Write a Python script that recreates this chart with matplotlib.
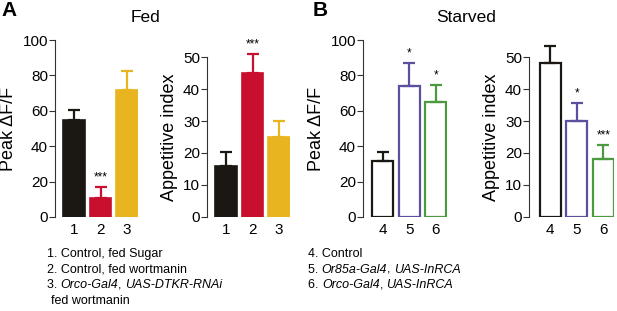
import numpy as np
import matplotlib
matplotlib.use('Agg')
from matplotlib import pyplot as plt

plt.rcParams['font.family'] = ['Liberation Sans', 'DejaVu Sans']

# dados
grupos_A = ['1', '2', '3']
peak_A = [55, 10.5, 72]
peak_A_err = [5.5, 6.5, 10.5]
app_A = [16, 45, 25]
app_A_err = [4.2, 6, 5]
est_peak_A = ['', '***', '']
est_app_A = ['', '***', '']

grupos_B = ['4', '5', '6']
peak_B = [31.5, 74, 65]
peak_B_err = [5, 13, 9.5]
app_B = [48, 30, 18]
app_B_err = [5.5, 5.5, 4.5]
est_peak_B = ['', '*', '*']
est_app_B = ['', '*', '***']

cores_A = ['#1b1713', '#c8102e', '#e8b420']
cores_B = ['#1b1713', '#5b4fa0', '#4c9a3f']

legenda_A = [
    [('1. Control, fed Sugar', 'normal')],
    [('2. Control, fed wortmanin', 'normal')],
    [('3. ', 'normal'), ('Orco-Gal4', 'italic'), (', ', 'normal'), ('UAS-DTKR-RNAi', 'italic')],
    [('fed wortmanin', 'normal')],
]
legenda_B = [
    [('4. Control', 'normal')],
    [('5. ', 'normal'), ('Or85a-Gal4', 'italic'), (', ', 'normal'), ('UAS-InRCA', 'italic')],
    [('6. ', 'normal'), ('Orco-Gal4', 'italic'), (', ', 'normal'), ('UAS-InRCA', 'italic')],
]

W, H = 617, 311
fig = plt.figure(figsize=(W / 100, H / 100), dpi=100)

px = 26.5  # pixels por barra


def painel(x0, x_esq, x_dir, y_topo, ymax, yticks, valores, erros, cores, cheio,
           grupos, estrelas, ylabel):
    larg = (x_dir - x_esq) * px
    ax = fig.add_axes([x0 / W, (H - 217) / H, larg / W, (217 - y_topo) / H])
    x = np.arange(len(valores))
    if cheio:
        ax.bar(x, valores, width=0.82, color=cores, edgecolor=cores, linewidth=1.2)
    else:
        ax.bar(x, valores, width=0.8, facecolor='white', edgecolor=cores, linewidth=1.6)
    for xi, v, e, c, s in zip(x, valores, erros, cores, estrelas):
        ax.errorbar(xi, v, yerr=[[0], [e]], color=c, capsize=4.5, elinewidth=1.6,
                    capthick=1.6, clip_on=False)
        if s:
            ax.annotate(s, (xi, v + e), xytext=(0, 7), textcoords='offset points',
                        ha='center', va='center', fontsize=8.5, annotation_clip=False)
    ax.set_xlim(x_esq, x_dir)
    ax.set_ylim(0, ymax)
    ax.set_yticks(yticks)
    ax.set_xticks(x)
    ax.set_xticklabels(grupos)
    for lado in ['top', 'right', 'bottom']:
        ax.spines[lado].set_visible(False)
    ax.spines['left'].set_linewidth(0.8)
    ax.spines['left'].set_color('#333333')
    ax.tick_params(axis='y', length=4, width=0.8, color='#333333', labelsize=11, pad=1)
    ax.tick_params(axis='x', length=0, labelsize=11, pad=4)
    ax.set_ylabel(ylabel, fontsize=13, labelpad=4)
    ax.patch.set_visible(False)
    return ax


painel(55, -0.72, 2.42, 40, 100, [0, 20, 40, 60, 80, 100], peak_A, peak_A_err, cores_A, True,
       grupos_A, est_peak_A, 'Peak ΔF/F')
painel(207, -0.72, 2.42, 57, 50, [0, 10, 20, 30, 40, 50], app_A, app_A_err, cores_A, True,
       grupos_A, est_app_A, 'Appetitive index')
painel(363, -0.75, 2.42, 40, 100, [0, 20, 40, 60, 80, 100], peak_B, peak_B_err, cores_B, False,
       grupos_B, est_peak_B, 'Peak ΔF/F')
painel(529, -0.8, 2.42, 57, 50, [0, 10, 20, 30, 40, 50], app_B, app_B_err, cores_B, False,
       grupos_B, est_app_B, 'Appetitive index')

fig.text(1 / W, 1 - 10 / H, 'A', fontsize=15, fontweight='bold', va='center', ha='left')
fig.text(313 / W, 1 - 10 / H, 'B', fontsize=15, fontweight='bold', va='center', ha='left')
fig.text(145 / W, 1 - 18 / H, 'Fed', fontsize=12.5, va='center', ha='center')
fig.text(466 / W, 1 - 18 / H, 'Starved', fontsize=12.5, va='center', ha='center')

# legenda com partes em italico
fig.canvas.draw()
renderer = fig.canvas.get_renderer()


def escreve(x, y, partes):
    for s, estilo in partes:
        t = fig.text(x / W, 1 - y / H, s, fontsize=9, style=estilo, va='center', ha='left')
        x = x + t.get_window_extent(renderer).width


for i, linha in enumerate(legenda_A):
    xx = 47 if i < 3 else 51
    escreve(xx, 254 + i * 15.7, linha)
for i, linha in enumerate(legenda_B):
    escreve(308, 254 + i * 15.7, linha)

plt.savefig('out.png', dpi=100)
